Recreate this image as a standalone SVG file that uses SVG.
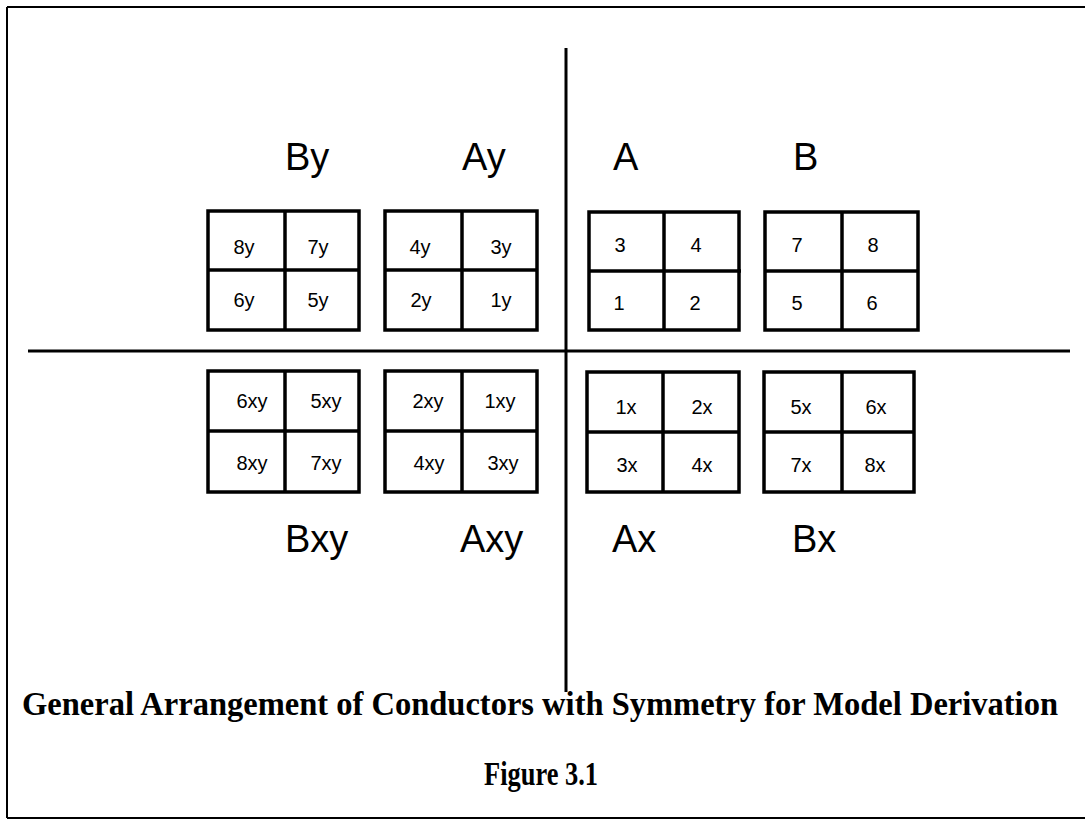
<svg xmlns="http://www.w3.org/2000/svg" width="1085" height="820" viewBox="0 0 1085 820">
<style>
.frame{stroke:#000;stroke-width:2;fill:none}
.axis{stroke:#000;stroke-width:3;fill:none}
.box{stroke:#000;stroke-width:3.5;fill:#fff}
.div{stroke:#000;stroke-width:3.5}
.cell{font-family:"Liberation Sans",Arial,sans-serif;font-size:20px;fill:#000;text-anchor:middle}
.lbl{font-family:"Liberation Sans",Arial,sans-serif;font-size:38px;fill:#000}
.title{font-family:"Liberation Serif","Times New Roman",serif;font-weight:bold;font-size:33px;fill:#000}
</style>
<rect width="1085" height="820" fill="#fff"/>
<g id="frame">
<line class="frame" x1="7" y1="7" x2="1085" y2="7"/>
<line class="frame" x1="7" y1="7" x2="7" y2="818"/>
<line class="frame" x1="7" y1="818" x2="1085" y2="818"/>
</g>
<g id="connectors">
<line class="axis" x1="566" y1="48" x2="566" y2="692"/>
<line class="axis" x1="28" y1="351" x2="1070" y2="351"/>
</g>
<g id="label-By"><text class="lbl" x="285" y="170">By</text></g>
<g id="label-Ay"><text class="lbl" x="462" y="170">Ay</text></g>
<g id="label-A"><text class="lbl" x="613" y="170">A</text></g>
<g id="label-B"><text class="lbl" x="793" y="170">B</text></g>
<g id="label-Bxy"><text class="lbl" x="285" y="552">Bxy</text></g>
<g id="label-Axy"><text class="lbl" x="460" y="552">Axy</text></g>
<g id="label-Ax"><text class="lbl" x="612" y="552">Ax</text></g>
<g id="label-Bx"><text class="lbl" x="792" y="552">Bx</text></g>
<g id="box-By">
<rect class="box" x="208" y="211" width="151" height="119"/>
<line class="div" x1="285" y1="211" x2="285" y2="330"/>
<line class="div" x1="208" y1="270" x2="359" y2="270"/>
<text class="cell" x="244" y="254">8y</text>
<text class="cell" x="318" y="254">7y</text>
<text class="cell" x="244" y="307">6y</text>
<text class="cell" x="318" y="307">5y</text>
</g>
<g id="box-Ay">
<rect class="box" x="385" y="211" width="152" height="119"/>
<line class="div" x1="462" y1="211" x2="462" y2="330"/>
<line class="div" x1="385" y1="270" x2="537" y2="270"/>
<text class="cell" x="420" y="254">4y</text>
<text class="cell" x="501" y="254">3y</text>
<text class="cell" x="421" y="307">2y</text>
<text class="cell" x="501" y="307">1y</text>
</g>
<g id="box-A">
<rect class="box" x="589" y="212" width="150" height="118"/>
<line class="div" x1="664" y1="212" x2="664" y2="330"/>
<line class="div" x1="589" y1="271" x2="741" y2="271"/>
<text class="cell" x="620" y="252">3</text>
<text class="cell" x="696" y="252">4</text>
<text class="cell" x="619" y="310">1</text>
<text class="cell" x="695" y="310">2</text>
</g>
<g id="box-B">
<rect class="box" x="765" y="212" width="153" height="118"/>
<line class="div" x1="842" y1="212" x2="842" y2="330"/>
<line class="div" x1="765" y1="271" x2="919" y2="271"/>
<text class="cell" x="797" y="252">7</text>
<text class="cell" x="873" y="252">8</text>
<text class="cell" x="797" y="310">5</text>
<text class="cell" x="872" y="310">6</text>
</g>
<g id="box-Bxy">
<rect class="box" x="208" y="371" width="151" height="121"/>
<line class="div" x1="285" y1="371" x2="285" y2="492"/>
<line class="div" x1="208" y1="431" x2="359" y2="431"/>
<text class="cell" x="252" y="408">6xy</text>
<text class="cell" x="326" y="408">5xy</text>
<text class="cell" x="252" y="470">8xy</text>
<text class="cell" x="326" y="470">7xy</text>
</g>
<g id="box-Axy">
<rect class="box" x="385" y="371" width="152" height="121"/>
<line class="div" x1="462" y1="371" x2="462" y2="492"/>
<line class="div" x1="385" y1="431" x2="537" y2="431"/>
<text class="cell" x="428" y="408">2xy</text>
<text class="cell" x="500" y="408">1xy</text>
<text class="cell" x="429" y="470">4xy</text>
<text class="cell" x="503" y="470">3xy</text>
</g>
<g id="box-Ax">
<rect class="box" x="587" y="372" width="152" height="120"/>
<line class="div" x1="663" y1="372" x2="663" y2="492"/>
<line class="div" x1="587" y1="432" x2="739" y2="432"/>
<text class="cell" x="626" y="414">1x</text>
<text class="cell" x="702" y="414">2x</text>
<text class="cell" x="627" y="472">3x</text>
<text class="cell" x="702" y="472">4x</text>
</g>
<g id="box-Bx">
<rect class="box" x="764" y="372" width="150" height="120"/>
<line class="div" x1="842" y1="372" x2="842" y2="492"/>
<line class="div" x1="764" y1="432" x2="914" y2="432"/>
<text class="cell" x="801" y="414">5x</text>
<text class="cell" x="876" y="414">6x</text>
<text class="cell" x="801" y="472">7x</text>
<text class="cell" x="875" y="472">8x</text>
</g>
<g id="caption">
<text class="title" x="22" y="715" textLength="1036" lengthAdjust="spacingAndGlyphs">General Arrangement of Conductors with Symmetry for Model Derivation</text>
<text class="title" x="484" y="785" textLength="114" lengthAdjust="spacingAndGlyphs">Figure 3.1</text>
</g>
</svg>
